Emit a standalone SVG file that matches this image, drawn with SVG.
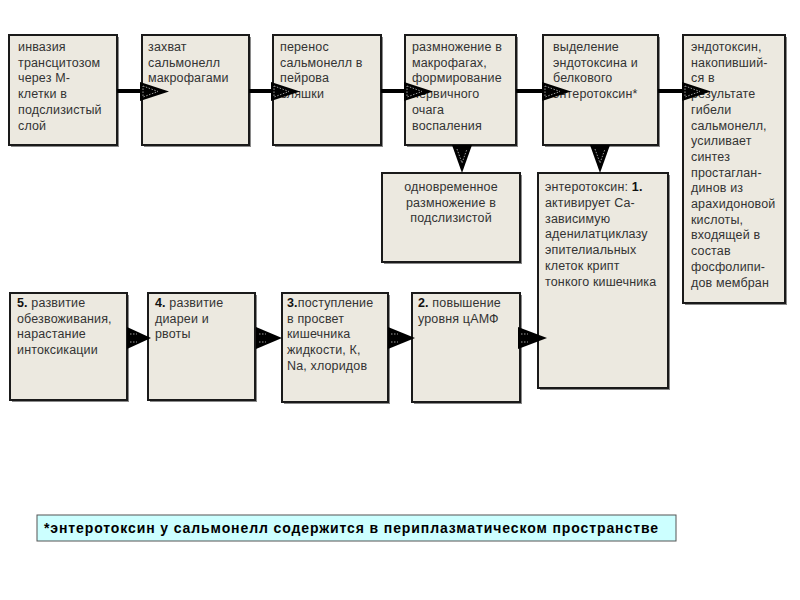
<svg xmlns="http://www.w3.org/2000/svg" width="800" height="600" viewBox="0 0 800 600">
<style>
.sh{fill:#8a8a8a}
.bx{fill:#ECE9E0;stroke:#1a1a1a;stroke-width:2}
.t{font-family:"Liberation Sans",Arial,sans-serif;font-size:12.5px;fill:#333;letter-spacing:0.15px}
.c{text-anchor:middle}
.b{font-weight:bold;fill:#111}
.ln{stroke:#000;stroke-width:4;fill:none}
.ah{fill:#000}
.ai{fill:none;stroke:#9a9a9a;stroke-width:1;stroke-dasharray:1.5 1.5}
.fb{fill:#CCFFFF;stroke:#555;stroke-width:1}
.ft{font-family:"Liberation Sans",Arial,sans-serif;font-size:14px;font-weight:bold;fill:#000}
</style>
<rect width="800" height="600" fill="#fff"/>

<g id="n1"><rect class="sh" x="11" y="37" width="108" height="110"/><rect class="bx" x="9" y="35" width="108" height="110"/>
<text class="t" x="18" y="51">инвазия</text><text class="t" x="18" y="66.7">трансцитозом</text><text class="t" x="18" y="82.4">через М-</text><text class="t" x="18" y="98.1">клетки в</text><text class="t" x="18" y="113.8">подслизистый</text><text class="t" x="18" y="129.5">слой</text></g>

<g id="n2"><rect class="sh" x="144" y="37" width="107" height="110"/><rect class="bx" x="142" y="35" width="107" height="110"/>
<text class="t" x="148" y="51">захват</text><text class="t" x="148" y="66.7">сальмонелл</text><text class="t" x="148" y="82.4">макрофагами</text></g>

<g id="n3"><rect class="sh" x="275" y="37" width="108" height="110"/><rect class="bx" x="273" y="35" width="108" height="110"/>
<text class="t" x="280" y="51">перенос</text><text class="t" x="280" y="66.7">сальмонелл в</text><text class="t" x="280" y="82.4">пейрова</text><text class="t" x="280" y="98.1">бляшки</text></g>

<g id="n4"><rect class="sh" x="407" y="37" width="111" height="110"/><rect class="bx" x="405" y="35" width="111" height="110"/>
<text class="t" x="412" y="51">размножение в</text><text class="t" x="412" y="66.7">макрофагах,</text><text class="t" x="412" y="82.4">формирование</text><text class="t" x="412" y="98.1">первичного</text><text class="t" x="412" y="113.8">очага</text><text class="t" x="412" y="129.5">воспаления</text></g>

<g id="n5"><rect class="sh" x="545" y="37" width="115" height="110"/><rect class="bx" x="543" y="35" width="115" height="110"/>
<text class="t" x="553" y="51">выделение</text><text class="t" x="553" y="66.7">эндотоксина и</text><text class="t" x="553" y="82.4">белкового</text><text class="t" x="553" y="98.1">энтеротоксин*</text></g>

<g id="n6"><rect class="sh" x="685" y="37" width="102" height="268"/><rect class="bx" x="683" y="35" width="102" height="268"/>
<text class="t" x="691" y="51">эндотоксин,</text><text class="t" x="691" y="66.7">накопивший-</text><text class="t" x="691" y="82.4">ся  в</text><text class="t" x="691" y="98.1">результате</text><text class="t" x="691" y="113.8">гибели</text><text class="t" x="691" y="129.5">сальмонелл,</text><text class="t" x="691" y="145.2">усиливает</text><text class="t" x="691" y="160.9">синтез</text><text class="t" x="691" y="176.6">простаглан-</text><text class="t" x="691" y="192.3">динов из</text><text class="t" x="691" y="208">арахидоновой</text><text class="t" x="691" y="223.7">кислоты,</text><text class="t" x="691" y="239.4">входящей в</text><text class="t" x="691" y="255.1">состав</text><text class="t" x="691" y="270.8">фосфолипи-</text><text class="t" x="691" y="286.5">дов мембран</text></g>

<g id="n7"><rect class="sh" x="384" y="175" width="138" height="89"/><rect class="bx" x="382" y="173" width="138" height="89"/>
<text class="t c" x="451" y="191">одновременное</text><text class="t c" x="451" y="206.7">размножение в</text><text class="t c" x="451" y="222.4">подслизистой</text></g>

<g id="n8"><rect class="sh" x="540" y="175" width="130" height="215"/><rect class="bx" x="538" y="173" width="130" height="215"/>
<text class="t" x="545" y="191">энтеротоксин:  <tspan class="b">1.</tspan></text><text class="t" x="545" y="206.8">активирует Са-</text><text class="t" x="545" y="222.6">зависимую</text><text class="t" x="545" y="238.4">аденилатциклазу</text><text class="t" x="545" y="254.2">эпителиальных</text><text class="t" x="545" y="270">клеток крипт</text><text class="t" x="545" y="285.8">тонкого кишечника</text></g>

<g id="n9"><rect class="sh" x="12" y="295" width="117" height="107"/><rect class="bx" x="10" y="293" width="117" height="107"/>
<text class="t" x="17" y="307"><tspan class="b">5.</tspan> развитие</text><text class="t" x="17" y="322.7">обезвоживания,</text><text class="t" x="17" y="338.4">нарастание</text><text class="t" x="17" y="354.1">интоксикации</text></g>

<g id="n10"><rect class="sh" x="150" y="295" width="107" height="107"/><rect class="bx" x="148" y="293" width="107" height="107"/>
<text class="t" x="155" y="307"><tspan class="b">4.</tspan> развитие</text><text class="t" x="155" y="322.7">диареи и</text><text class="t" x="155" y="338.4">рвоты</text></g>

<g id="n11"><rect class="sh" x="284" y="295" width="106" height="109"/><rect class="bx" x="282" y="293" width="106" height="109"/>
<text class="t" x="287" y="307"><tspan class="b">3.</tspan>поступление</text><text class="t" x="287" y="322.7">в просвет</text><text class="t" x="287" y="338.4">кишечника</text><text class="t" x="287" y="354.1">жидкости, К,</text><text class="t" x="287" y="369.8">Na, хлоридов</text></g>

<g id="n12"><rect class="sh" x="414" y="295" width="108" height="109"/><rect class="bx" x="412" y="293" width="108" height="109"/>
<text class="t" x="418" y="307"><tspan class="b">2.</tspan> повышение</text><text class="t" x="418" y="322.7">уровня цАМФ</text></g>

<g id="connectors">
<path class="ln" d="M117 91H141M249 91H272M381 91H405M516 91H543M658 91H683"/>
<polygon class="ah" points="140,82 169,91.5 140,101"/><polygon class="ai" points="143,86 158,91.5 143,97"/>
<polygon class="ah" points="271,82 300,91.5 271,101"/><polygon class="ai" points="274,86 289,91.5 274,97"/>
<polygon class="ah" points="404,82 433,91.5 404,101"/><polygon class="ai" points="407,86 422,91.5 407,97"/>
<polygon class="ah" points="542,82 571,91.5 542,101"/><polygon class="ai" points="545,86 560,91.5 545,97"/>
<polygon class="ah" points="682,82 711,91.5 682,101"/><polygon class="ai" points="685,86 700,91.5 685,97"/>
<polygon class="ah" points="452,145 472,145 462,173"/><polyline class="ai" points="457,149 462,163 467,149"/>
<polygon class="ah" points="590,145 610,145 600,173"/><polyline class="ai" points="595,149 600,163 605,149"/>
<polygon class="ah" points="127,327 151,338 127,349"/><path class="ai" d="M130,334H137M130,342H137"/>
<polygon class="ah" points="256,327 282,338 256,349"/><path class="ai" d="M259,334H266M259,342H266"/>
<polygon class="ah" points="388,327 415,338 388,349"/><path class="ai" d="M391,334H398M391,342H398"/>
<polygon class="ah" points="518,327 547,338 518,349"/><path class="ai" d="M521,334H528M521,342H528"/>
</g>

<g id="note"><rect class="fb" x="37" y="515" width="639" height="26"/>
<text class="ft" x="44" y="533" textLength="614" lengthAdjust="spacing">*энтеротоксин у сальмонелл содержится в периплазматическом пространстве</text></g>
</svg>
